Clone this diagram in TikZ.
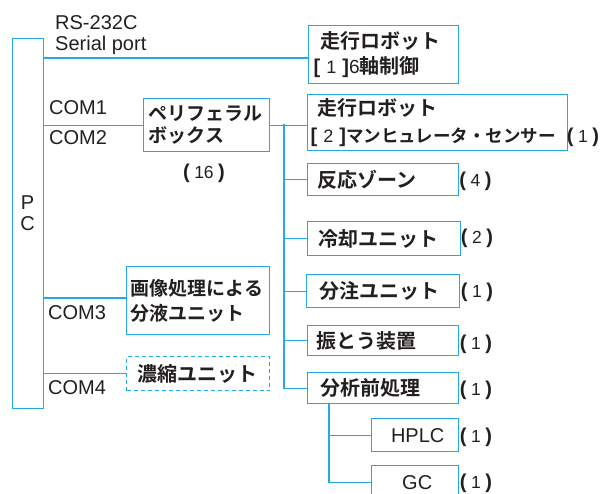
\documentclass[tikz,border=0pt]{standalone}
\usepackage{fontspec}
\setmainfont{Liberation Sans}
\newfontfamily\lat{Liberation Sans}
\newfontfamily\jp{Noto Sans CJK JP}[BoldFont={Noto Sans CJK JP Bold}]
\definecolor{lb}{RGB}{35,170,230}
\definecolor{tc}{RGB}{35,31,32}
\newcommand\myjp{\fontsize{20}{25}\selectfont\jp\bfseries}
\newcommand\mylat{\fontsize{20}{21}\selectfont\lat}
\newcommand\mycnt[1]{{\fontsize{20}{22}\selectfont\lat\bfseries(}\hspace{4.5pt}{\fontsize{17.5}{20}\selectfont\lat #1}\hspace{4.5pt}{\fontsize{20}{22}\selectfont\lat\bfseries)}}
\newcommand\brk[1]{{\lat\bfseries[}\hspace{6pt}{\fontsize{18}{20}\selectfont\lat\mdseries #1}\hspace{6pt}{\lat\bfseries]}}
\tikzset{
  ln/.style={draw=lb, line width=1.4pt},
  box/.style={draw=lb, line width=1.4pt, rectangle, anchor=north west, inner ysep=0pt, text=tc, align=left, font=\myjp},
  lbl/.style={inner sep=0pt, anchor=west, text=tc, font=\mylat},
  cnt/.style={inner sep=0pt, text=tc},
}
\begin{document}
\begin{tikzpicture}[x=1pt,y=-1pt]
\useasboundingbox (0,0) rectangle (607,493);
\clip (0,0) rectangle (607,493);
% PC
\node[box, minimum width=31pt, minimum height=370pt, inner sep=0pt] (pc) at (12,38) {};
\node[lbl, anchor=center, align=center] (pct) at (27.5,213) {P\\C};
% boxes
\node[box, inner xsep=5pt, text width=140pt, minimum width=150pt, minimum height=58pt] (r1) at (308,25)
  {\hspace*{7pt}走行ロボット\\\brk{1}{\fontsize{19}{20}\selectfont\lat\mdseries 6}軸制御};
\node[box, inner xsep=5pt, text width=116pt, minimum width=126pt, minimum height=53pt, font=\fontsize{19}{22}\selectfont\jp\bfseries] (per) at (143,98)
  {ペリフェラル\\ボックス};
\node[box, inner xsep=3pt, text width=254pt, minimum width=260pt, minimum height=56pt, font=\fontsize{20}{27}\selectfont\jp\bfseries] (r2) at (307,94)
  {\hspace*{7pt}走行ロボット\\\brk{2}{\fontsize{17.5}{27}\selectfont マンヒュレータ・センサー}};
\node[box, inner xsep=10pt, text width=131pt, minimum width=151pt, minimum height=32pt] (hz) at (307,163) {反応ゾーン};
\node[box, inner xsep=11pt, text width=131pt, minimum width=153pt, minimum height=34pt] (rk) at (307,221) {冷却ユニット};
\node[box, inner xsep=13pt, text width=127pt, minimum width=153pt, minimum height=33pt] (bc) at (306,274) {分注ユニット};
\node[box, inner xsep=9pt, text width=133pt, minimum width=151pt, minimum height=30pt] (sk) at (307,325) {振とう装置};
\node[box, inner xsep=13pt, text width=125pt, minimum width=151pt, minimum height=31pt] (bz) at (307,372) {分析前処理};
\node[box, align=center, inner xsep=0pt, minimum width=87pt, minimum height=33pt, font=\mylat] (hplc) at (371,418) {\hspace*{5pt}HPLC};
\node[box, align=center, inner xsep=0pt, minimum width=87pt, minimum height=34pt, font=\mylat] (gc) at (371,465) {\hspace*{4pt}GC};
\node[box, inner xsep=4pt, text width=135pt, minimum width=143pt, minimum height=68pt, font=\fontsize{19}{25}\selectfont\jp\bfseries] (img) at (126,266)
  {画像処理による\\分液ユニット};
\node[box, dashed, dash pattern=on 4pt off 3pt, inner xsep=11pt, text width=121pt, minimum width=143pt, minimum height=34pt] (nou) at (126,356) {濃縮ユニット};
% labels
\node[lbl] (rs) at (55,23) {RS-232C};
\node[lbl] (sp) at (55,45) {Serial port};
\node[lbl] (c1) at (49,108) {COM1};
\node[lbl] (c2) at (49,138) {COM2};
\node[lbl] (c3) at (48,313) {COM3};
\node[lbl] (c4) at (48,388) {COM4};
% counts
\node[cnt] (n16) at (204,173) {\mycnt{16}};
\node[cnt] (nr2) at (583,137) {\mycnt{1}};
\node[cnt] (nhz) at (475.5,181) {\mycnt{4}};
\node[cnt] (nrk) at (477,238) {\mycnt{2}};
\node[cnt] (nbc) at (477,292) {\mycnt{1}};
\node[cnt] (nsk) at (476,344) {\mycnt{1}};
\node[cnt] (nbz) at (476,390) {\mycnt{1}};
\node[cnt] (nhp) at (476,437) {\mycnt{1}};
\node[cnt] (ngc) at (476,483) {\mycnt{1}};
% connectors
\coordinate (bus) at (284,124);
\coordinate (sub) at (329,481);
\draw[ln] (pc.east |- 0,58) -- (r1.west |- 0,58);
\draw[ln] (pc.east |- per.west) -- (per.west);
\draw[ln] (per.east) -- (r2.west |- per.east);
\draw[ln] (bus) -- (bus |- bz.west) -- (bz.west);
\draw[ln] (bus |- hz.west) -- (hz.west);
\draw[ln] (bus |- rk.west) -- (rk.west);
\draw[ln] (bus |- bc.west) -- (bc.west);
\draw[ln] (bus |- sk.west) -- (sk.west);
\draw[ln] (sub |- bz.south) -- (sub |- gc.west) -- (gc.west);
\draw[ln] (sub |- hplc.west) -- (hplc.west);
\draw[ln] (pc.east |- 0,298) -- (img.west |- 0,298);
\draw[ln] (pc.east |- nou.west) -- (nou.west);
\end{tikzpicture}
\end{document}
